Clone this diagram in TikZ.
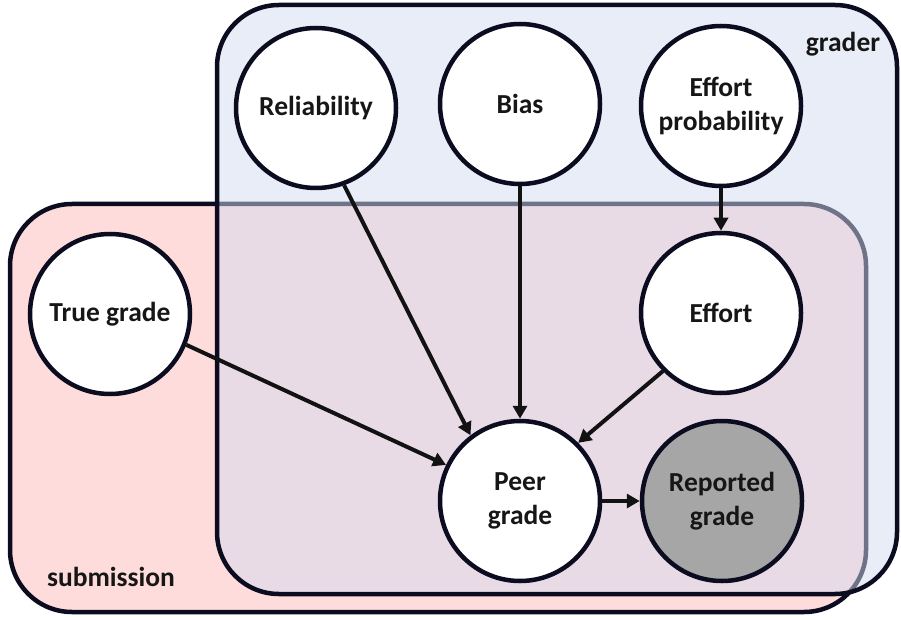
\documentclass[tikz,border=0pt]{standalone}
\usepackage{fontspec}
\setmainfont{Carlito}
\usetikzlibrary{arrows.meta}
\definecolor{edgecol}{RGB}{12,12,32}
\definecolor{txtcol}{RGB}{22,22,22}
\definecolor{redfill}{RGB}{255,220,220}
\definecolor{bluefill}{RGB}{211,219,239}
\definecolor{greyfill}{RGB}{166,166,166}
\definecolor{arrcol}{RGB}{18,18,18}
\tikzset{
  var/.style={circle, draw=edgecol, line width=4.5pt, fill=white, minimum size=160pt,
    inner sep=0pt, align=center, text=txtcol, font=\fontsize{27.5}{34}\selectfont\bfseries},
  obs/.style={var, fill=greyfill},
  plate/.style={draw=edgecol, line width=4.5pt, rounded corners=62pt},
  platelabel/.style={text=txtcol, font=\fontsize{27.5}{34}\selectfont\bfseries, inner sep=0pt},
  edge/.style={draw=arrcol, line width=4pt, -{Triangle[length=13pt,width=14pt]}}
}
\begin{document}
\begin{tikzpicture}[x=1pt,y=-1pt]
\useasboundingbox (0,0) rectangle (901,620);
% submission plate
\path[plate, fill=redfill] (10,204) rectangle (866,612);
% grader plate
\path[plate, fill=bluefill, fill opacity=0.5] (217,5) rectangle (897,594);
\node[platelabel] (graderlbl) at (843,44) {grader};
\node[platelabel] (sublbl) at (111,577) {submission};
% variables
\node[var] (rel) at (316,108) {Reliability};
\node[var] (bias) at (520,104) {Bias};
\node[var] (effp) at (721,106) {Effort\\probability};
\node[var] (eff) at (721,313) {Effort};
\node[var] (true) at (110,314) {True grade};
\node[var] (peer) at (520,501) {Peer\\grade};
\node[obs] (rep) at (722,501) {Reported\\grade};
% edges
\draw[edge] (rel.-70) -- (peer.127);
\draw[edge] (bias) -- (peer);
\draw[edge] (effp) -- (eff);
\draw[edge] (eff.225) -- (peer.45);
\draw[edge] (true.-22) -- (peer.154);
\draw[edge] (peer) -- (rep);
\end{tikzpicture}
\end{document}
